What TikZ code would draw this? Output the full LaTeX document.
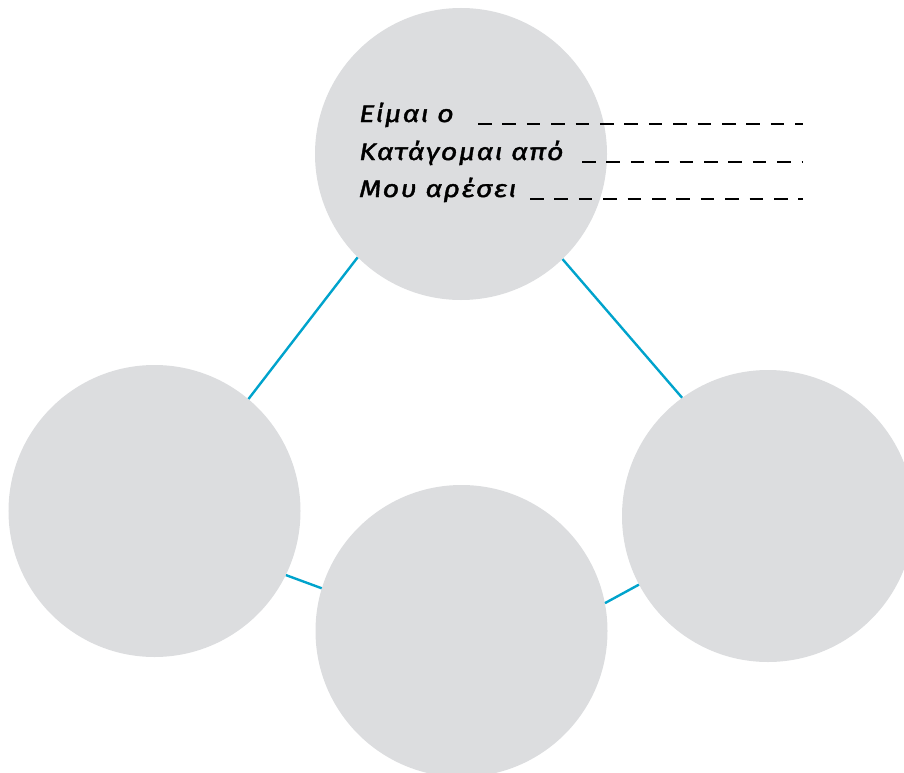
\documentclass[tikz,border=0pt]{standalone}
\usepackage{fontspec}
\setmainfont{Fira Sans}
\newfontfamily\lblfont{Fira Sans}[FakeStretch=1.2,FakeBold=1.6,LetterSpace=5]
\definecolor{discgray}{HTML}{DCDDDF}
\definecolor{linkblue}{HTML}{00A3CC}
\begin{document}
\begin{tikzpicture}[x=1bp,y=-1bp,
  disc/.style={circle,fill=discgray,minimum size=292bp,inner sep=0pt},
  link/.style={draw=linkblue,line width=2.4bp},
  label/.style={anchor=base west,inner sep=0pt,font=\lblfont\fontsize{24bp}{28bp}\selectfont\itshape},
  blank/.style={draw=black,line width=1.5bp,dash pattern=on 13.5bp off 10.9bp}]
\useasboundingbox (0,0) rectangle (904,773);
\node[disc] (top) at (461,154) {};
\node[disc] (left) at (154.5,511) {};
\node[disc] (bottom) at (461.5,631) {};
\node[disc] (right) at (768,516) {};
\draw[link] (top.225.1) -- (left.50.7);
\draw[link] (top.314.1) -- (right.126.6);
\draw[link] (left.334.4) -- (bottom.163.6);
\draw[link] (bottom.11.4) -- (right.208.3);
\node[label] (l1) at (359,122) {Είμαι ο};
\node[label] (l2) at (359,160) {Κατάγομαι από};
\node[label] (l3) at (359,197) {Μου αρέσει};
\coordinate (b1) at (478,124);
\coordinate (e1) at (803,124);
\coordinate (b2) at (582,162);
\coordinate (e2) at (803,162);
\coordinate (b3) at (530,199);
\coordinate (e3) at (803,199);
\draw[blank] (b1) -- (e1);
\draw[blank] (b2) -- (e2);
\draw[blank] (b3) -- (e3);
\end{tikzpicture}
\end{document}
